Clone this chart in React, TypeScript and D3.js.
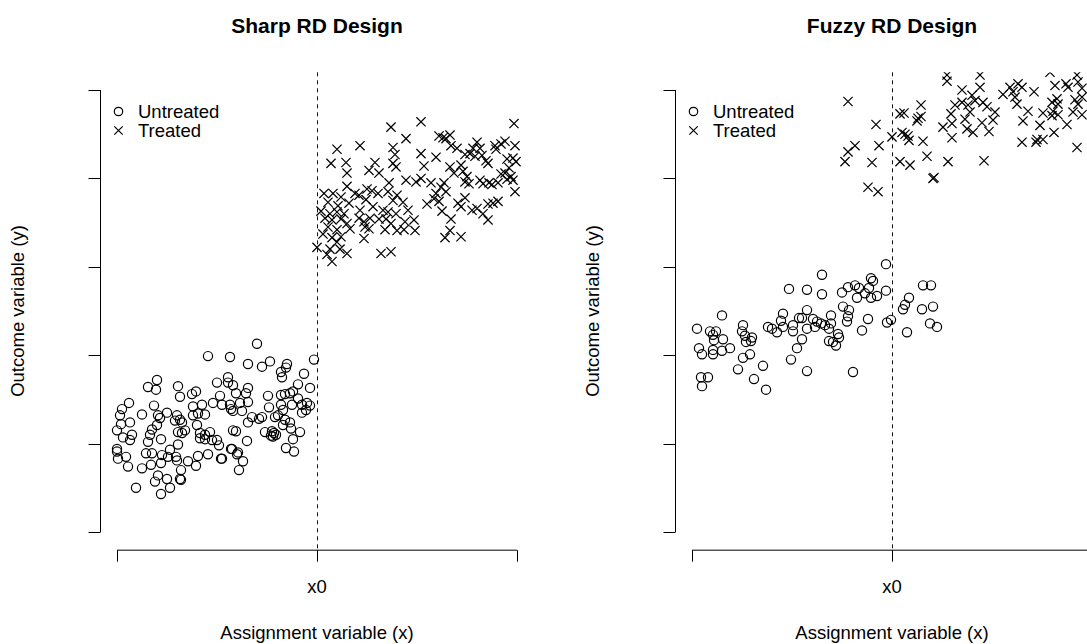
import * as d3 from "d3";

// assignment variable: -2 .. 2 (cutoff x0 = 0); outcome: 0 .. 5
const xTicks = [-2, 0, 2];
const xTickLabels = ["", "x0", ""];
const yTicks = [0, 1, 2, 3, 4, 5];

const sharpUntreated: [number, number][] = [
  [-1.09, 1.99], [-1.6, 1.72], [-1.69, 1.64], [-1.61, 1.61], [-1.39, 1.65], [-1.88, 1.46],
  [-1.95, 1.39], [-1.63, 1.43], [-1.37, 1.53], [-1.25, 1.56], [-1.21, 1.59], [-1.75, 1.33],
  [-1.97, 1.32], [-1.87, 1.24], [-1.96, 1.22], [-2.0, 1.15], [-1.59, 1.32], [-1.5, 1.35],
  [-1.57, 1.29], [-1.4, 1.32], [-1.37, 1.27], [-1.42, 1.26], [-1.35, 1.24], [-1.24, 1.42],
  [-1.15, 1.44], [-1.24, 1.32], [-1.19, 1.34], [-1.12, 1.33], [-1.04, 1.46], [-1.6, 1.21],
  [-1.65, 1.16], [-1.67, 1.1], [-1.69, 1.02], [-1.85, 1.1], [-1.94, 1.07], [-1.87, 1.04],
  [-1.56, 1.05], [-1.39, 1.13], [-1.35, 1.12], [-1.32, 1.15], [-1.39, 0.99], [-1.2, 1.21],
  [-1.17, 1.12], [-1.12, 1.1], [-1.07, 1.13], [-1.12, 1.05], [-1.17, 1.06], [-1.05, 1.04],
  [-2.0, 0.94], [-2.0, 0.91], [-1.99, 0.83], [-1.91, 0.85], [-1.89, 0.74], [-1.71, 0.89],
  [-1.65, 0.89], [-1.55, 0.87], [-1.47, 0.93], [-1.49, 0.85], [-1.41, 0.85], [-1.4, 0.81],
  [-1.56, 0.78], [-1.66, 0.76], [-1.75, 0.72], [-1.29, 0.8], [-1.21, 0.75], [-1.19, 0.86],
  [-1.09, 0.88], [-1.36, 0.7], [-1.59, 0.64], [-1.62, 0.57], [-1.5, 0.6], [-1.47, 0.5],
  [-1.37, 0.6], [-1.81, 0.5], [-1.56, 0.43], [-1.36, 0.59], [-0.95, 0.83], [-0.85, 0.94],
  [-0.8, 0.88], [-0.6, 2.13], [-0.87, 1.98], [-0.69, 1.9], [-0.55, 1.87], [-0.47, 1.93],
  [-0.3, 1.9], [-0.31, 1.86], [-0.36, 1.81], [-0.35, 1.75], [-0.13, 1.79], [-0.03, 1.95],
  [-1.0, 1.69], [-0.89, 1.75], [-0.89, 1.69], [-0.84, 1.66], [-0.69, 1.63], [-0.71, 1.57],
  [-0.69, 1.47], [-0.81, 1.57], [-0.97, 1.54], [-0.95, 1.44], [-0.87, 1.44], [-0.86, 1.39],
  [-0.84, 1.37], [-0.77, 1.46], [-0.75, 1.37], [-0.49, 1.54], [-0.36, 1.55], [-0.32, 1.56],
  [-0.27, 1.57], [-0.24, 1.59], [-0.19, 1.67], [-0.07, 1.63], [-0.19, 1.51], [-0.25, 1.44],
  [-0.15, 1.44], [-0.1, 1.46], [-0.07, 1.43], [-0.15, 1.35], [-0.11, 1.38], [-0.36, 1.44],
  [-0.34, 1.38], [-0.39, 1.32], [-0.48, 1.41], [-0.42, 1.3], [-0.55, 1.3], [-0.65, 1.3],
  [-0.69, 1.24], [-0.58, 1.28], [-0.32, 1.27], [-0.27, 1.24], [-0.34, 1.21], [-0.26, 1.17],
  [-0.17, 1.13], [-0.52, 1.13], [-0.45, 1.14], [-0.43, 1.12], [-0.46, 1.09], [-0.41, 1.1],
  [-0.44, 1.08], [-0.24, 1.05], [-0.84, 1.15], [-0.81, 1.14], [-0.7, 1.03], [-1.0, 1.04],
  [-0.98, 0.98], [-0.86, 0.94], [-0.79, 0.9], [-0.96, 0.83], [-0.74, 0.8], [-0.78, 0.7],
  [-0.31, 0.95], [-0.23, 0.91],
];

const sharpTreated: [number, number][] = [
  [0.74, 4.58], [0.89, 4.45], [0.43, 4.37], [0.2, 4.33], [0.76, 4.35], [0.78, 4.27],
  [0.14, 4.17], [0.29, 4.18], [0.3, 4.06], [0.58, 4.18], [0.52, 4.09], [0.62, 4.06],
  [0.76, 4.17], [0.79, 4.13], [0.89, 3.98], [0.72, 3.95], [0.99, 3.96], [0.5, 3.88],
  [0.55, 3.86], [0.3, 3.91], [0.07, 3.83], [0.16, 3.83], [0.24, 3.79], [0.38, 3.83],
  [0.42, 3.81], [0.49, 3.76], [0.61, 3.83], [0.71, 3.85], [0.8, 3.81], [0.76, 3.75],
  [0.86, 3.73], [0.11, 3.73], [0.21, 3.69], [0.32, 3.72], [0.04, 3.63], [0.13, 3.6],
  [0.2, 3.62], [0.27, 3.6], [0.43, 3.64], [0.56, 3.68], [0.66, 3.64], [0.71, 3.62],
  [0.79, 3.6], [0.91, 3.64], [0.08, 3.55], [0.15, 3.53], [0.24, 3.54], [0.3, 3.49],
  [0.42, 3.55], [0.47, 3.51], [0.53, 3.55], [0.62, 3.54], [0.69, 3.54], [0.74, 3.49],
  [0.88, 3.51], [0.97, 3.53], [0.11, 3.45], [0.2, 3.42], [0.33, 3.43], [0.48, 3.45],
  [0.52, 3.43], [0.68, 3.42], [0.8, 3.41], [0.87, 3.42], [0.98, 3.41], [0.06, 3.37],
  [0.15, 3.33], [0.24, 3.34], [0.2, 3.28], [0.47, 3.32], [0.0, 3.22], [0.13, 3.2],
  [0.1, 3.14], [0.23, 3.2], [0.15, 3.06], [0.3, 3.15], [0.64, 3.15], [0.74, 3.17],
  [1.04, 4.64], [1.97, 4.62], [1.22, 4.48], [1.33, 4.49], [1.29, 4.45], [1.26, 4.46],
  [1.34, 4.37], [1.4, 4.34], [1.6, 4.41], [1.56, 4.34], [1.63, 4.34], [1.78, 4.37],
  [1.84, 4.39], [1.88, 4.42], [1.98, 4.37], [1.79, 4.33], [1.04, 4.28], [1.19, 4.24],
  [1.48, 4.27], [1.53, 4.28], [1.58, 4.25], [1.65, 4.26], [1.69, 4.2], [1.71, 4.17],
  [1.9, 4.22], [1.96, 4.23], [1.99, 4.19], [1.44, 4.15], [1.33, 4.13], [1.07, 4.14],
  [1.37, 4.06], [1.46, 4.08], [1.5, 4.02], [1.92, 4.12], [1.88, 4.06], [1.84, 4.05],
  [1.94, 4.02], [1.9, 3.99], [1.96, 3.98], [1.04, 4.0], [1.14, 3.95], [1.27, 3.95],
  [1.48, 3.96], [1.52, 3.94], [1.63, 3.98], [1.66, 3.94], [1.72, 3.95], [1.75, 3.93],
  [1.81, 3.95], [1.98, 3.85], [1.24, 3.9], [1.29, 3.85], [1.19, 3.83], [1.17, 3.77],
  [1.22, 3.74], [1.1, 3.71], [1.48, 3.78], [1.41, 3.72], [1.44, 3.68], [1.71, 3.71],
  [1.76, 3.72], [1.81, 3.74], [1.55, 3.64], [1.6, 3.66], [1.66, 3.6], [1.25, 3.63],
  [1.34, 3.54], [1.71, 3.53], [1.33, 3.41], [1.28, 3.33], [1.44, 3.34],
];

const fuzzyUntreated: [number, number][] = [
  [-1.03, 2.75], [-1.7, 2.45], [-1.95, 2.3], [-1.82, 2.27], [-1.76, 2.27], [-1.79, 2.23],
  [-1.78, 2.17], [-1.69, 2.18], [-1.49, 2.34], [-1.5, 2.27], [-1.47, 2.22], [-1.4, 2.2],
  [-1.41, 2.16], [-1.46, 2.15], [-1.24, 2.32], [-1.2, 2.3], [-1.15, 2.26], [-1.11, 2.39],
  [-1.09, 2.32], [-1.09, 2.47], [-0.99, 2.34], [-0.99, 2.27], [-0.93, 2.42], [-0.95, 2.08],
  [-1.93, 2.08], [-1.9, 2.01], [-1.79, 2.06], [-1.79, 2.01], [-1.7, 2.05], [-1.62, 2.08],
  [-1.49, 1.97], [-1.42, 2.01], [-1.54, 1.84], [-1.29, 1.88], [-1.01, 1.95], [-1.91, 1.75],
  [-1.84, 1.75], [-1.9, 1.65], [-1.38, 1.73], [-1.26, 1.61], [-0.06, 3.03], [-0.7, 2.91],
  [-0.85, 2.74], [-0.7, 2.69], [-0.5, 2.71], [-0.44, 2.77], [-0.37, 2.79], [-0.33, 2.76],
  [-0.21, 2.87], [-0.19, 2.84], [-0.23, 2.76], [-0.27, 2.7], [-0.35, 2.65], [-0.21, 2.65],
  [-0.15, 2.67], [-0.06, 2.73], [0.31, 2.79], [0.39, 2.79], [0.17, 2.65], [0.13, 2.57],
  [0.11, 2.52], [0.3, 2.52], [0.41, 2.55], [-0.85, 2.51], [-0.9, 2.42], [-0.79, 2.41],
  [-0.75, 2.38], [-0.71, 2.36], [-0.67, 2.34], [-0.61, 2.45], [-0.61, 2.36], [-0.49, 2.55],
  [-0.43, 2.51], [-0.44, 2.44], [-0.45, 2.38], [-0.24, 2.41], [-0.05, 2.37], [-0.01, 2.4],
  [-0.85, 2.3], [-0.77, 2.32], [-0.63, 2.3], [-0.54, 2.24], [-0.53, 2.2], [-0.3, 2.28],
  [-0.63, 2.16], [-0.59, 2.15], [-0.56, 2.11], [-0.9, 2.18], [0.38, 2.36], [0.45, 2.32],
  [0.15, 2.26], [-0.85, 1.82], [-0.39, 1.81],
];

const fuzzyTreated: [number, number][] = [
  [0.55, 5.17], [0.55, 5.1], [-0.44, 4.87], [0.29, 4.83], [0.08, 4.73], [0.12, 4.74],
  [0.26, 4.68], [0.29, 4.7], [0.25, 4.65], [0.59, 4.73], [0.63, 4.83], [-0.16, 4.61],
  [0.51, 4.58], [0.6, 4.62], [0.0, 4.47], [0.1, 4.52], [0.13, 4.5], [0.16, 4.48],
  [0.17, 4.43], [0.31, 4.42], [0.6, 4.46], [-0.37, 4.37], [-0.13, 4.37], [-0.44, 4.3],
  [-0.47, 4.19], [-0.2, 4.18], [0.08, 4.19], [0.18, 4.15], [0.35, 4.25], [0.56, 4.19],
  [0.41, 4.0], [0.42, 4.01], [-0.24, 3.9], [-0.14, 3.85], [0.88, 5.17], [1.58, 5.2],
  [1.85, 5.17], [0.88, 5.03], [1.18, 5.03], [1.26, 5.07], [1.3, 5.03], [1.21, 4.98],
  [1.42, 4.98], [1.63, 5.05], [1.74, 5.07], [1.76, 5.03], [1.86, 5.09], [1.9, 5.02],
  [0.7, 5.0], [0.8, 4.94], [1.11, 4.95], [1.23, 4.92], [1.25, 4.84], [0.83, 4.88],
  [0.76, 4.83], [0.91, 4.86], [0.95, 4.81], [0.7, 4.86], [1.6, 4.86], [1.65, 4.9],
  [1.66, 4.84], [1.83, 4.89], [1.86, 4.84], [1.9, 4.92], [0.78, 4.75], [1.03, 4.75],
  [1.36, 4.76], [1.51, 4.74], [1.61, 4.76], [1.66, 4.72], [1.81, 4.75], [1.9, 4.72],
  [0.73, 4.67], [1.01, 4.66], [1.31, 4.65], [1.6, 4.71], [0.75, 4.56], [0.81, 4.52],
  [0.9, 4.63], [0.97, 4.53], [1.48, 4.6], [1.75, 4.61], [1.62, 4.52], [1.3, 4.41],
  [1.44, 4.41], [1.45, 4.44], [1.51, 4.44], [1.85, 4.35], [0.92, 4.2],
];

const FONT = "'Liberation Sans', Arial, Helvetica, sans-serif";
const PANEL_W = 575;
const R = 4.6; // circle radius
const S = 4.6; // half size of the cross

const cross = (a: number, b: number, s: number) =>
  `M${a - s},${b - s}L${a + s},${b + s}M${a - s},${b + s}L${a + s},${b - s}`;

type PanelProps = {
  title: string;
  untreated: [number, number][];
  treated: [number, number][];
  off: number;
  id: string;
};

function Panel({ title, untreated, treated, off, id }: PanelProps) {
  const x = d3.scaleLinear().domain([-2, 2]).range([117 + off, 517 + off]);
  const y = d3.scaleLinear().domain([0, 5]).range([532, 90]);
  // plot region (R extends the data range 4% on each side)
  const [px0, px1] = [x(-2.16), x(2.16)];
  const [py0, py1] = [y(5.2), y(-0.2)];
  const cx = x(0);
  const cy = (py0 + py1) / 2;

  return (
    <g>
      <defs>
        <clipPath id={id}>
          <rect x={px0} y={py0} width={px1 - px0} height={py1 - py0} />
        </clipPath>
      </defs>

      <text x={cx} y={33} textAnchor="middle" fontSize={21} fontWeight="bold" fontFamily={FONT}>
        {title}
      </text>

      {/* y axis */}
      <line x1={px0 - 0.5} x2={px0 - 0.5} y1={y(0)} y2={y(5)} stroke="#000" />
      {yTicks.map((t) => (
        <line key={t} x1={px0 - 12.5} x2={px0 - 0.5} y1={Math.round(y(t)) + 0.5} y2={Math.round(y(t)) + 0.5} stroke="#000" />
      ))}

      {/* x axis */}
      <line x1={x(-2)} x2={x(2)} y1={py1 + 0.5} y2={py1 + 0.5} stroke="#000" />
      {xTicks.map((t, i) => (
        <g key={t}>
          <line x1={Math.round(x(t)) + 0.5} x2={Math.round(x(t)) + 0.5} y1={py1 + 0.5} y2={py1 + 12} stroke="#000" />
          <text x={x(t)} y={593} textAnchor="middle" fontSize={18.5} fontFamily={FONT}>
            {xTickLabels[i]}
          </text>
        </g>
      ))}

      <text x={cx} y={639} textAnchor="middle" fontSize={18.5} fontFamily={FONT}>
        Assignment variable (x)
      </text>
      <text transform={`translate(${24 + off},${cy}) rotate(-90)`} textAnchor="middle" fontSize={18.5} fontFamily={FONT}>
        Outcome variable (y)
      </text>

      {/* cutoff */}
      <line x1={Math.round(cx) + 0.5} x2={Math.round(cx) + 0.5} y1={py0} y2={py1} stroke="#111" strokeDasharray="4,4" />

      <g clipPath={`url(#${id})`} fill="none" stroke="#000" strokeWidth={1.2}>
        {untreated.map((d, i) => (
          <circle key={"u" + i} cx={x(d[0])} cy={y(d[1])} r={R} />
        ))}
        {treated.map((d, i) => (
          <path key={"t" + i} d={cross(x(d[0]), y(d[1]), S)} />
        ))}
      </g>

      {/* legend */}
      <g fontSize={18.5} fontFamily={FONT}>
        <circle cx={118.5 + off} cy={111.5} r={4.2} fill="none" stroke="#000" strokeWidth={1.2} />
        <text x={138 + off} y={118}>Untreated</text>
        <path d={cross(118.5 + off, 130.5, 4.2)} stroke="#000" strokeWidth={1.2} fill="none" />
        <text x={138 + off} y={137}>Treated</text>
      </g>
    </g>
  );
}

export default function App() {
  return (
    <div style={{ position: "absolute", left: 0, top: 0 }}>
      <svg width={1087} height={644} style={{ display: "block", background: "#fff" }}>
        <Panel title="Sharp RD Design" untreated={sharpUntreated} treated={sharpTreated} off={0} id="clipSharp" />
        <Panel title="Fuzzy RD Design" untreated={fuzzyUntreated} treated={fuzzyTreated} off={PANEL_W} id="clipFuzzy" />
      </svg>
    </div>
  );
}
